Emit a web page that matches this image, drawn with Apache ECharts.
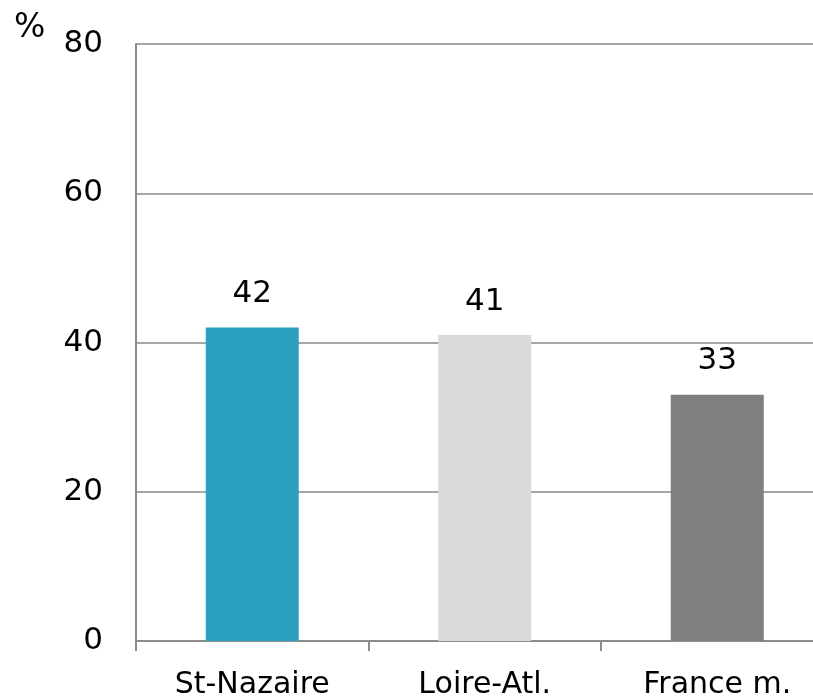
<!DOCTYPE html>
<html>
<head>
<meta charset="utf-8">
<script src="https://cdn.jsdelivr.net/npm/echarts@6/dist/echarts.min.js"></script>
<style>
  html, body { margin: 0; padding: 0; background: #fff; }
  #chart { width: 813px; height: 697px; }
</style>
</head>
<body>
<div id="chart"></div>
<script>
// Share (%) by area
const categories = ['St-Nazaire', 'Loire-Atl.', 'France m.'];
const values = [42, 41, 33];
const barColors = ['#2ca1bf', '#d9d9d9', '#7f7f7f'];
const yTicks = { min: 0, max: 80, interval: 20 };

const FONT = '"DejaVu Sans", sans-serif';

const chart = echarts.init(document.getElementById('chart'));
chart.setOption({
  animation: false,
  graphic: [{
    type: 'text', left: 14, top: 12,
    style: { text: '%', font: '33px ' + FONT, fill: '#000' }
  }],
  // plot area runs slightly past the right edge of the canvas
  grid: {
    left: 136, width: 697.5, top: 44, bottom: 56,
    containLabel: false, outerBoundsMode: 'none'
  },
  xAxis: {
    type: 'category',
    data: categories,
    axisLine: { lineStyle: { color: '#8c8c8c', width: 2 } },
    axisTick: { show: true, length: 10, lineStyle: { color: '#8c8c8c', width: 2 } },
    axisLabel: { color: '#000', fontSize: 30, fontFamily: FONT, margin: 29 }
  },
  yAxis: {
    type: 'value',
    min: yTicks.min, max: yTicks.max, interval: yTicks.interval,
    axisLine: { show: true, lineStyle: { color: '#8c8c8c', width: 2 } },
    axisTick: { show: false },
    splitLine: { lineStyle: { color: '#a6a6a6', width: 2 } },
    axisLabel: { color: '#000', fontSize: 31, fontFamily: FONT, margin: 33 }
  },
  series: [{
    type: 'bar',
    data: values.map((v, i) => ({ value: v, itemStyle: { color: barColors[i] } })),
    barWidth: '40%',
    label: {
      show: true, position: 'top', distance: 18,
      color: '#000', fontSize: 31, fontFamily: FONT
    }
  }]
});
</script>
</body>
</html>
